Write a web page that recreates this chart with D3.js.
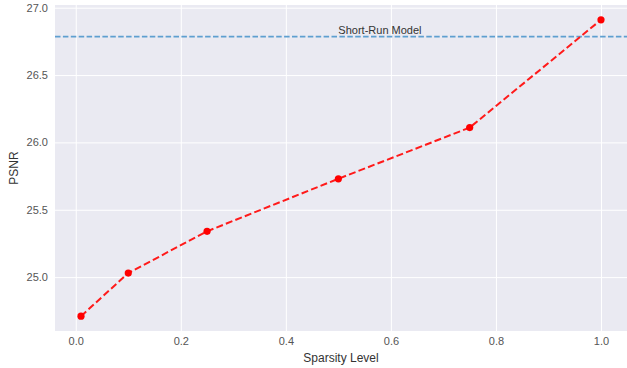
<!DOCTYPE html>
<html>
<head>
<meta charset="utf-8">
<script src="https://cdn.jsdelivr.net/npm/d3@7"></script>
<style>
  body { margin: 0; background: #fff; }
  text { font-family: "DejaVu Sans", Arial, sans-serif; }
</style>
</head>
<body>
<svg id="chart"></svg>
<script>
const sparsity = [0.01, 0.1, 0.25, 0.5, 0.75, 1.0];
const psnr = [24.71, 25.03, 25.34, 25.73, 26.11, 26.91];
const shortRunPsnr = 26.785;
const xTicks = [0.0, 0.2, 0.4, 0.6, 0.8, 1.0];
const yTicks = [25.0, 25.5, 26.0, 26.5, 27.0];

const width = 627, height = 368;
const margin = { top: 5, right: 0, bottom: 37, left: 55 };

const svg = d3.select('#chart').attr('width', width).attr('height', height);

// matplotlib style 5% padding on both axes
const xPad = (1.0 - 0.01) * 0.05;
const yPad = (26.91 - 24.71) * 0.05;
const x = d3.scaleLinear()
  .domain([0.01 - xPad, 1.0 + xPad])
  .range([margin.left, width - margin.right]);
const y = d3.scaleLinear()
  .domain([24.71 - yPad, 26.91 + yPad])
  .range([height - margin.bottom, margin.top]);

svg.append('rect')
  .attr('x', margin.left).attr('y', margin.top)
  .attr('width', width - margin.left - margin.right)
  .attr('height', height - margin.top - margin.bottom)
  .attr('fill', '#eaeaf2');

const xAxis = svg.append('g')
  .attr('transform', `translate(0,${height - margin.bottom})`)
  .call(d3.axisBottom(x).tickValues(xTicks).tickFormat(d3.format('.1f'))
    .tickSize(-(height - margin.top - margin.bottom)).tickPadding(6));
const yAxis = svg.append('g')
  .attr('transform', `translate(${margin.left},0)`)
  .call(d3.axisLeft(y).tickValues(yTicks).tickFormat(d3.format('.1f'))
    .tickSize(-(width - margin.left - margin.right)).tickPadding(7));

[xAxis, yAxis].forEach(g => {
  g.select('.domain').remove();
  g.selectAll('.tick line').attr('stroke', '#fff').attr('stroke-width', 1);
  g.selectAll('.tick text').attr('fill', '#555').style('font-size', '11px')
    .style('font-family', 'Arial, "Liberation Sans", sans-serif');
});

// reference line
svg.append('line')
  .attr('x1', margin.left).attr('x2', width - margin.right)
  .attr('y1', y(shortRunPsnr)).attr('y2', y(shortRunPsnr))
  .attr('stroke', '#5e9fd0').attr('stroke-width', 1.6)
  .attr('stroke-dasharray', '5.5,2.4');

svg.append('text')
  .attr('x', x(0.5)).attr('y', y(shortRunPsnr) - 3)
  .attr('fill', '#333').style('font-size', '11px')
  .style('font-family', 'Arial, "Liberation Sans", sans-serif')
  .text('Short-Run Model');

const line = d3.line().x((d, i) => x(sparsity[i])).y(d => y(d));
svg.append('path')
  .datum(psnr)
  .attr('d', line)
  .attr('fill', 'none')
  .attr('stroke', '#ff1a1a').attr('stroke-width', 2)
  .attr('stroke-dasharray', '7,3.2');

svg.selectAll('circle.pt')
  .data(psnr)
  .enter().append('circle')
  .attr('class', 'pt')
  .attr('cx', (d, i) => x(sparsity[i]))
  .attr('cy', d => y(d))
  .attr('r', 3.6)
  .attr('fill', '#ff0000');

svg.append('text')
  .attr('x', (margin.left + width - margin.right) / 2)
  .attr('y', height - 6)
  .attr('text-anchor', 'middle')
  .attr('fill', '#333').style('font-size', '12px')
  .style('font-family', 'Arial, "Liberation Sans", sans-serif')
  .text('Sparsity Level');

svg.append('text')
  .attr('transform', `translate(18,${(margin.top + height - margin.bottom) / 2}) rotate(-90)`)
  .attr('text-anchor', 'middle')
  .attr('fill', '#333').style('font-size', '12px')
  .style('font-family', 'Arial, "Liberation Sans", sans-serif')
  .text('PSNR');
</script>
</body>
</html>
